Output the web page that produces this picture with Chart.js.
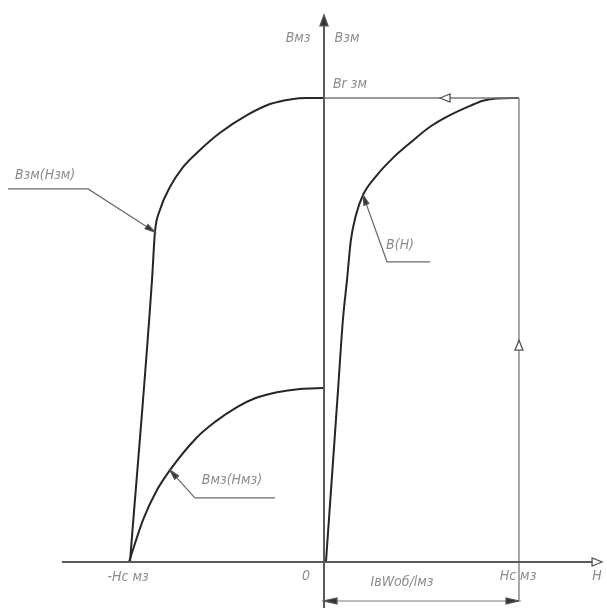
<!DOCTYPE html>
<html><head><meta charset="utf-8">
<script src="https://cdn.jsdelivr.net/npm/chart.js@4/dist/chart.umd.min.js"></script>
<style>html,body{margin:0;padding:0;background:#fff;}canvas{display:block;}</style>
</head><body>
<canvas id="c" width="607" height="608"></canvas>
<script>
// Units: H normalised so Hc = 1; B normalised so Br = 1
const curveBH_H = [0.010,0.072,0.097,0.118,0.138,0.164,0.200,0.272,0.354,0.441,0.544,0.646,0.749,0.815,0.887,1.0];
const curveBH_B = [0,0.371,0.522,0.608,0.694,0.748,0.791,0.834,0.871,0.903,0.938,0.963,0.983,0.994,0.999,1.0];
const curveBzm_H = [-0.995,-0.882,-0.867,-0.841,-0.790,-0.723,-0.636,-0.533,-0.395,-0.277,-0.174,-0.087,0];
const curveBzm_B = [0,0.608,0.711,0.759,0.808,0.851,0.888,0.925,0.963,0.987,0.997,1.0,1.0];
const curveBmz_H = [-1.0,-0.928,-0.862,-0.790,-0.651,-0.559,-0.446,-0.354,-0.241,-0.123,0];
const curveBmz_B = [0,0.091,0.151,0.198,0.269,0.302,0.334,0.353,0.366,0.373,0.375];
const Hc = 1, Br = 1, negHc = -0.995;
const axisLabels = ['Bмз','Bзм','Br зм','-Hc мз','0','Hc мз','H','IвWоб/lмз'];
const curveLabels = ['Bзм(Hзм)','B(H)','Bмз(Hмз)'];

const pts = (xs, ys) => xs.map((x,i)=>({x:x,y:ys[i]}));
const line = (data, color, width) => ({data, borderColor:color, borderWidth:width, showLine:true, pointRadius:0, tension:0, fill:false});
const curve = (data) => Object.assign(line(data, '#262626', 2), {cubicInterpolationMode:'monotone'});

const X_MIN=-324/195, X_MAX=(607-324)/195, Y_MIN=-(608-562)/464, Y_MAX=562/464;

const datasets = [
  // axes
  line([{x:0,y:-0.099},{x:0,y:1.17}], '#5a5a5a', 2),
  line([{x:-1.344,y:0},{x:1.42,y:0}], '#5a5a5a', 2),
  // Hc vertical and Br horizontal
  line([{x:Hc,y:Br},{x:Hc,y:-0.082}], '#7a7a7a', 1.3),
  line([{x:0,y:Br},{x:Hc,y:Br}], '#7a7a7a', 1.3),
  // dimension line
  line([{x:0,y:-0.084},{x:Hc,y:-0.084}], '#7a7a7a', 1.2),
  // leaders
  line([{x:-0.867,y:0.711},{x:-1.210,y:0.804},{x:-1.621,y:0.804}], '#6a6a6a', 1.2),
  line([{x:0.200,y:0.791},{x:0.323,y:0.647},{x:0.544,y:0.647}], '#6a6a6a', 1.2),
  line([{x:-0.790,y:0.198},{x:-0.662,y:0.138},{x:-0.251,y:0.138}], '#6a6a6a', 1.2),
  // curves
  curve(pts(curveBH_H, curveBH_B)),
  curve(pts(curveBzm_H, curveBzm_B)),
  curve(pts(curveBmz_H, curveBmz_B)),
];

const arrows = [
  {h:0, b:1.179, dx:0, dy:1, len:11, w:4, fill:true},
  {h:1.426, b:0, dx:1, dy:0, len:10, w:4, fill:false},
  {h:0.595, b:Br, dx:-1, dy:0, len:10, w:4, fill:false},
  {h:Hc, b:0.478, dx:0, dy:1, len:10, w:4, fill:false},
  {h:0, b:-0.084, dx:-1, dy:0, len:13, w:3, fill:true},
  {h:Hc, b:-0.084, dx:1, dy:0, len:13, w:3, fill:true},
  {h:-0.867, b:0.711, from:{h:-1.210,b:0.804}, len:10, w:2.5, fill:true},
  {h:0.200, b:0.791, from:{h:0.323,b:0.647}, len:10, w:2.5, fill:true},
  {h:-0.790, b:0.198, from:{h:-0.662,b:0.138}, len:10, w:2.5, fill:true},
];

const texts = [
  {t:axisLabels[0], h:-0.133, b:1.129, align:'center'},
  {t:axisLabels[1], h:0.118, b:1.129, align:'center'},
  {t:axisLabels[2], h:0.046, b:1.030, align:'left'},
  {t:axisLabels[3], h:-1.005, b:-0.034, align:'center'},
  {t:axisLabels[4], h:-0.092, b:-0.032, align:'center'},
  {t:axisLabels[5], h:0.995, b:-0.032, align:'center'},
  {t:axisLabels[6], h:1.40, b:-0.032, align:'center'},
  {t:axisLabels[7], h:0.40, b:-0.043, align:'center'},
  {t:curveLabels[0], h:-1.585, b:0.834, align:'left'},
  {t:curveLabels[1], h:0.39, b:0.683, align:'center'},
  {t:curveLabels[2], h:-0.472, b:0.177, align:'center'},
];

const drawPlugin = {
  id:'draw',
  afterDatasetsDraw(chart){
    const ctx = chart.ctx, xs = chart.scales.x, ys = chart.scales.y;
    const px = h => xs.getPixelForValue(h), py = b => ys.getPixelForValue(b);
    ctx.save();
    arrows.forEach(a=>{
      const tx = px(a.h), ty = py(a.b);
      let ux, uy;
      if (a.from){ ux = tx - px(a.from.h); uy = ty - py(a.from.b); }
      else { ux = a.dx; uy = -a.dy; }
      const n = Math.hypot(ux,uy); ux/=n; uy/=n;
      const bx = tx - ux*a.len, by = ty - uy*a.len;
      ctx.beginPath();
      ctx.moveTo(tx,ty);
      ctx.lineTo(bx - uy*a.w, by + ux*a.w);
      ctx.lineTo(bx + uy*a.w, by - ux*a.w);
      ctx.closePath();
      ctx.lineWidth = 1.3;
      ctx.strokeStyle = '#555';
      ctx.fillStyle = a.fill ? '#333' : '#fff';
      ctx.fill(); ctx.stroke();
    });
    ctx.font = 'italic 14px "DejaVu Sans Condensed", "DejaVu Sans", sans-serif';
    ctx.fillStyle = '#8c8c8c';
    ctx.textBaseline = 'middle';
    texts.forEach(t=>{
      ctx.textAlign = t.align;
      ctx.fillText(t.t, px(t.h), py(t.b));
    });
    ctx.restore();
  }
};

new Chart(document.getElementById('c'), {
  type:'scatter',
  data:{datasets},
  options:{
    responsive:false, animation:false,
    layout:{padding:0},
    plugins:{legend:{display:false}, tooltip:{enabled:false}},
    scales:{
      x:{type:'linear', min:X_MIN, max:X_MAX, display:false},
      y:{type:'linear', min:Y_MIN, max:Y_MAX, display:false}
    }
  },
  plugins:[drawPlugin]
});
</script>
</body></html>
